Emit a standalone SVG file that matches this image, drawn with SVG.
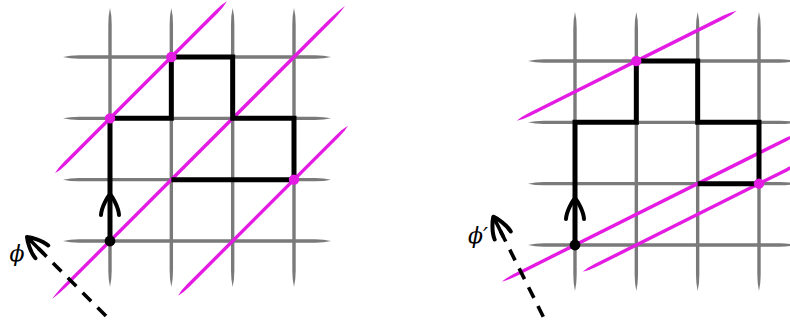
<svg xmlns="http://www.w3.org/2000/svg" width="790" height="322" viewBox="0 0 790 322">
  <style>
    .grid { fill: #7a7a7a; }
    .mag { fill: #e31be3; }
    .walk { fill: none; stroke: #000; stroke-width: 5; stroke-linejoin: miter; stroke-linecap: butt; }
    .head { fill: none; stroke: #000; stroke-width: 4; stroke-linecap: round; stroke-linejoin: round; }
    .dash { fill: none; stroke: #000; stroke-width: 3.6; stroke-dasharray: 12 9; stroke-linecap: butt; }
    .shaft { fill: none; stroke: #000; stroke-width: 3.6; }
    .mdot { fill: #e31be3; }
    .bdot { fill: #000; }
    .lbl { font-family: "DejaVu Serif", "Liberation Serif", serif; font-style: italic; font-size: 22px; fill: #000; text-anchor: middle; }
  </style>
  <defs>
    <path id="taper" d="M0,0 Q2.5,-1.7 6,-1.7 L94,-1.7 Q97.5,-1.7 100,0 Q97.5,1.7 94,1.7 L6,1.7 Q2.5,1.7 0,0 Z"/>
    <path id="ahead" d="M-9,21 C-8.5,13 -2.5,3 0,0 C2.5,3 8.5,13 9,21"/>
  </defs>

  <g id="left-panel">
    <g id="left-grid" class="grid">
      <use href="#taper" transform="translate(110,8) rotate(90) scale(2.79,1)"/>
      <use href="#taper" transform="translate(171.33,8) rotate(90) scale(2.79,1)"/>
      <use href="#taper" transform="translate(232.67,8) rotate(90) scale(2.79,1)"/>
      <use href="#taper" transform="translate(294,8) rotate(90) scale(2.79,1)"/>
      <use href="#taper" transform="translate(63,57) scale(2.68,1)"/>
      <use href="#taper" transform="translate(63,118.33) scale(2.68,1)"/>
      <use href="#taper" transform="translate(63,179.67) scale(2.68,1)"/>
      <use href="#taper" transform="translate(63,241) scale(2.68,1)"/>
    </g>
    <g id="left-lines" class="mag">
      <use href="#taper" transform="translate(55,173.33) rotate(-45) scale(2.432,1)"/>
      <use href="#taper" transform="translate(52,299) rotate(-45) scale(4.144,1)"/>
      <use href="#taper" transform="translate(178,295.67) rotate(-45) scale(2.404,1)"/>
    </g>
    <g id="left-walk">
      <path class="walk" d="M110,241 V118.33 H171.33 V57 H232.67 V118.33 H294 V179.67 H171.33"/>
      <use href="#ahead" class="head" transform="translate(110,194)"/>
      <circle class="bdot" cx="110" cy="241" r="5.4"/>
      <circle class="mdot" cx="110" cy="118.33" r="5.2"/>
      <circle class="mdot" cx="171.33" cy="57" r="5.2"/>
      <circle class="mdot" cx="294" cy="179.67" r="5.2"/>
    </g>
    <g id="left-phi">
      <path class="dash" d="M106,316 L28,238"/>
      <path class="shaft" d="M43.5,253.5 L29,239"/>
      <use href="#ahead" class="head" transform="translate(27,237) rotate(-45)"/>
      <text class="lbl" x="17" y="261">ϕ</text>
    </g>
  </g>

  <g id="right-panel">
    <g id="right-grid" class="grid">
      <use href="#taper" transform="translate(575,12) rotate(90) scale(2.79,1)"/>
      <use href="#taper" transform="translate(636.33,12) rotate(90) scale(2.79,1)"/>
      <use href="#taper" transform="translate(697.67,12) rotate(90) scale(2.79,1)"/>
      <use href="#taper" transform="translate(759,12) rotate(90) scale(2.79,1)"/>
      <use href="#taper" transform="translate(528,61) scale(2.68,1)"/>
      <use href="#taper" transform="translate(528,122.33) scale(2.68,1)"/>
      <use href="#taper" transform="translate(528,183.67) scale(2.68,1)"/>
      <use href="#taper" transform="translate(528,245) scale(2.68,1)"/>
    </g>
    <g id="right-lines" class="mag">
      <use href="#taper" transform="translate(516.7,120.8) rotate(-26.565) scale(2.46,1)"/>
      <use href="#taper" transform="translate(501.7,281.65) rotate(-26.565) scale(3.335,1)"/>
      <use href="#taper" transform="translate(582.7,271.8) rotate(-26.565) scale(2.43,1)"/>
    </g>
    <g id="right-walk">
      <path class="walk" d="M575,245 V122.33 H636.33 V61 H697.67 V122.33 H759 V183.67 H697.67"/>
      <use href="#ahead" class="head" transform="translate(575,198)"/>
      <circle class="bdot" cx="575" cy="245" r="5.4"/>
      <circle class="mdot" cx="636.33" cy="61" r="5.2"/>
      <circle class="mdot" cx="759" cy="183.67" r="5.2"/>
    </g>
    <g id="right-phi">
      <path class="dash" d="M543.3,316.7 L493.3,216.7"/>
      <path class="shaft" d="M503.5,237 L494,218"/>
      <use href="#ahead" class="head" transform="translate(493.3,216.7) rotate(-26.565)"/>
      <text class="lbl" x="478" y="243">ϕ′</text>
    </g>
  </g>
</svg>
